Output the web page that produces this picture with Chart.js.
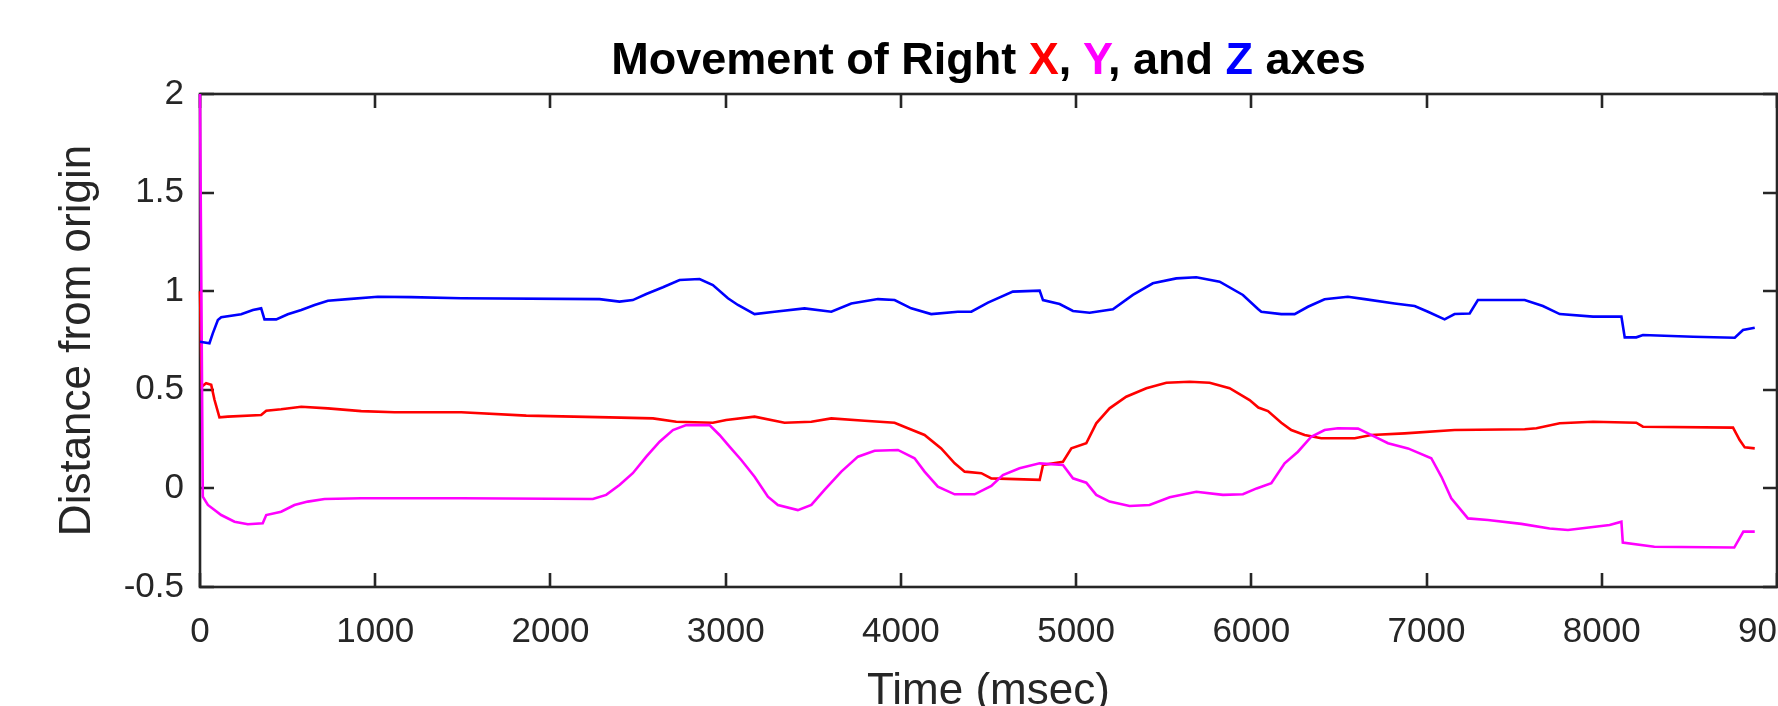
<!DOCTYPE html>
<html>
<head>
<meta charset="utf-8">
<title>Movement of Right X, Y, and Z axes</title>
<script src="https://cdn.jsdelivr.net/npm/chart.js@4/dist/chart.umd.min.js"></script>
<style>
  body { margin: 0; background: #fff; overflow: hidden; }
  #wrap { position: relative; width: 1778px; height: 706px; }
  #chart-title {
    position: absolute; left: 200px; width: 1577px; top: 36px;
    text-align: center; font: bold 45px "Liberation Sans", Arial, sans-serif;
    line-height: 45px; color: #000; white-space: nowrap;
  }
  .ax-x { color: #ff0000; }
  .ax-y { color: #ff00ff; }
  .ax-z { color: #0000ff; }
</style>
</head>
<body>
<div id="wrap">
  <canvas id="movementChart"></canvas>
  <div id="chart-title">Movement of Right <span class="ax-x">X</span>, <span class="ax-y">Y</span>, and <span class="ax-z">Z</span> axes</div>
</div>
<script>
// values (time in msec, distance from origin)
const xTimes = [0, 10, 35, 64, 83, 111, 159, 349, 378, 463, 578, 730, 920, 1110, 1491, 1862, 2337, 2585, 2718, 2927,
  3003, 3165, 3336, 3489, 3603, 3793, 3964, 4040, 4135, 4230, 4307, 4364, 4459, 4516, 4792, 4811, 4925, 4973, 5058,
  5115, 5191, 5286, 5401, 5515, 5648, 5762, 5876, 5990, 6040, 6095, 6171, 6228, 6304, 6399, 6590, 6685, 6875, 7160,
  7560, 7627, 7760, 7950, 8197, 8235, 8749, 8787, 8816, 8873];
const xValues = [1.0, 0.516, 0.533, 0.525, 0.448, 0.360, 0.364, 0.372, 0.394, 0.401, 0.414, 0.406, 0.392, 0.386, 0.386,
  0.369, 0.360, 0.355, 0.338, 0.333, 0.347, 0.364, 0.333, 0.338, 0.355, 0.343, 0.333, 0.305, 0.271, 0.203, 0.127, 0.085,
  0.077, 0.051, 0.043, 0.119, 0.135, 0.203, 0.229, 0.330, 0.406, 0.465, 0.508, 0.536, 0.541, 0.536, 0.508, 0.448, 0.41,
  0.392, 0.333, 0.296, 0.271, 0.254, 0.254, 0.271, 0.279, 0.296, 0.300, 0.305, 0.330, 0.338, 0.333, 0.313, 0.308, 0.245,
  0.208, 0.203];

const yTimes = [0, 16, 45, 121, 197, 273, 358, 378, 463, 539, 615, 711, 920, 1491, 2242, 2318, 2394, 2470, 2547, 2623,
  2699, 2775, 2908, 2965, 3022, 3089, 3165, 3241, 3298, 3412, 3489, 3564, 3660, 3755, 3850, 3983, 4078, 4135, 4211,
  4307, 4421, 4516, 4582, 4677, 4792, 4925, 4982, 5058, 5115, 5191, 5305, 5419, 5534, 5686, 5838, 5952, 6030, 6114,
  6190, 6266, 6342, 6418, 6494, 6609, 6666, 6780, 6894, 7027, 7085, 7141, 7236, 7350, 7541, 7702, 7807, 8045, 8112,
  8120, 8300, 8756, 8808, 8873];
const yValues = [2.0, -0.042, -0.084, -0.135, -0.169, -0.182, -0.177, -0.135, -0.118, -0.084, -0.067, -0.054, -0.050,
  -0.050, -0.054, -0.033, 0.017, 0.077, 0.161, 0.237, 0.296, 0.321, 0.321, 0.271, 0.212, 0.144, 0.059, -0.042, -0.084,
  -0.110, -0.084, -0.008, 0.085, 0.161, 0.191, 0.195, 0.153, 0.085, 0.009, -0.030, -0.030, 0.012, 0.068, 0.102, 0.127,
  0.119, 0.051, 0.029, -0.033, -0.067, -0.089, -0.084, -0.045, -0.017, -0.033, -0.030, 0.0, 0.026, 0.127, 0.186, 0.262,
  0.296, 0.305, 0.303, 0.279, 0.229, 0.203, 0.153, 0.059, -0.050, -0.152, -0.160, -0.180, -0.203, -0.211, -0.186, -0.169,
  -0.275, -0.296, -0.300, -0.219, -0.219];

const zTimes = [0, 54, 73, 102, 121, 235, 302, 349, 368, 435, 501, 578, 654, 730, 844, 1015, 1205, 1491, 2280, 2394,
  2470, 2547, 2642, 2737, 2851, 2927, 3013, 3070, 3165, 3279, 3450, 3603, 3717, 3869, 3964, 4059, 4173, 4325, 4402,
  4497, 4639, 4792, 4811, 4906, 4982, 5077, 5210, 5324, 5438, 5572, 5686, 5819, 5952, 6038, 6057, 6171, 6247, 6323,
  6418, 6551, 6647, 6818, 6932, 7008, 7103, 7160, 7246, 7293, 7560, 7664, 7760, 7950, 8112, 8131, 8197, 8235, 8521,
  8759, 8806, 8873];
const zValues = [0.744, 0.736, 0.786, 0.854, 0.868, 0.883, 0.905, 0.913, 0.857, 0.857, 0.883, 0.905, 0.930, 0.952, 0.960,
  0.972, 0.970, 0.964, 0.960, 0.947, 0.955, 0.986, 1.020, 1.057, 1.062, 1.031, 0.964, 0.930, 0.884, 0.896, 0.913, 0.896,
  0.938, 0.960, 0.955, 0.913, 0.884, 0.896, 0.896, 0.942, 0.998, 1.003, 0.955, 0.935, 0.900, 0.891, 0.908, 0.981, 1.040,
  1.065, 1.071, 1.048, 0.981, 0.910, 0.896, 0.884, 0.884, 0.921, 0.959, 0.972, 0.960, 0.938, 0.925, 0.896, 0.857, 0.884,
  0.887, 0.955, 0.955, 0.925, 0.884, 0.871, 0.871, 0.766, 0.766, 0.778, 0.769, 0.764, 0.803, 0.815];

const xTickValues = [0, 1000, 2000, 3000, 4000, 5000, 6000, 7000, 8000, 9000];
const xTickLabels = ["0", "1000", "2000", "3000", "4000", "5000", "6000", "7000", "8000", "9000"];
const yTickValues = [-0.5, 0, 0.5, 1, 1.5, 2];
const yTickLabels = ["-0.5", "0", "0.5", "1", "1.5", "2"];

const axisColor = "#262626";
const fontFamily = '"Liberation Sans", Arial, Helvetica, sans-serif';

function toPoints(times, values) {
    return times.map((t, i) => ({ x: t, y: values[i] }));
}

// MATLAB style box with ticks pointing inwards on all four sides
const boxAxes = {
    id: "boxAxes",
    beforeDatasetsDraw(chart) {
        const ctx = chart.ctx;
        const area = chart.chartArea;
        const xs = chart.scales.x;
        const ys = chart.scales.y;
        const len = 14;
        ctx.save();
        ctx.strokeStyle = axisColor;
        ctx.lineWidth = 2.6;
        ctx.strokeRect(area.left, area.top, area.right - area.left, area.bottom - area.top);
        ctx.beginPath();
        xs.ticks.forEach(tick => {
            const px = Math.round(xs.getPixelForValue(tick.value));
            ctx.moveTo(px, area.bottom);
            ctx.lineTo(px, area.bottom - len);
            ctx.moveTo(px, area.top);
            ctx.lineTo(px, area.top + len);
        });
        ys.ticks.forEach(tick => {
            const py = Math.round(ys.getPixelForValue(tick.value));
            ctx.moveTo(area.left, py);
            ctx.lineTo(area.left + len, py);
            ctx.moveTo(area.right, py);
            ctx.lineTo(area.right - len, py);
        });
        ctx.stroke();
        ctx.restore();
    }
};

const ctx = document.getElementById("movementChart").getContext("2d");

new Chart(ctx, {
    type: "line",
    data: {
        datasets: [
            { label: "X", data: toPoints(xTimes, xValues), borderColor: "#ff0000", order: 3 },
            { label: "Y", data: toPoints(yTimes, yValues), borderColor: "#ff00ff", order: 2 },
            { label: "Z", data: toPoints(zTimes, zValues), borderColor: "#0000ff", order: 1 }
        ]
    },
    options: {
        responsive: true,
        maintainAspectRatio: false,
        animation: false,
        layout: { padding: { top: 94, right: 1, bottom: 0, left: 0 } },
        elements: {
            line: { borderWidth: 2.6, tension: 0, fill: false },
            point: { radius: 0, hoverRadius: 0 }
        },
        datasets: { line: { clip: 4 } },
        plugins: {
            legend: { display: false },
            tooltip: { enabled: false },
            title: { display: false }
        },
        scales: {
            x: {
                type: "linear",
                min: 0,
                max: 9000,
                grid: { display: false, drawTicks: false },
                border: { display: false },
                afterBuildTicks: scale => {
                    scale.ticks = xTickValues.map(v => ({ value: v }));
                },
                afterFit: scale => {
                    scale.height = 119;
                    scale.paddingLeft = 0;
                    scale.paddingRight = 0;
                },
                ticks: {
                    autoSkip: false,
                    maxRotation: 0,
                    padding: 24,
                    color: axisColor,
                    font: { family: fontFamily, size: 35 },
                    callback: value => xTickLabels[xTickValues.indexOf(value)]
                },
                title: {
                    display: true,
                    text: "Time (msec)",
                    color: axisColor,
                    font: { family: fontFamily, size: 44, lineHeight: 0.5 },
                    padding: { top: 0, bottom: 3 }
                }
            },
            y: {
                min: -0.5,
                max: 2,
                grid: { display: false, drawTicks: false },
                border: { display: false },
                afterBuildTicks: scale => {
                    scale.ticks = yTickValues.map(v => ({ value: v }));
                },
                afterFit: scale => {
                    scale.width = 200;
                    scale.paddingTop = 0;
                    scale.paddingBottom = 0;
                },
                ticks: {
                    padding: 16,
                    color: axisColor,
                    font: { family: fontFamily, size: 35 },
                    callback: value => yTickLabels[yTickValues.indexOf(value)]
                },
                title: {
                    display: true,
                    text: "Distance from origin",
                    color: axisColor,
                    font: { family: fontFamily, size: 44 },
                    padding: { top: 51, bottom: 0 }
                }
            }
        }
    },
    plugins: [boxAxes]
});
</script>
</body>
</html>
